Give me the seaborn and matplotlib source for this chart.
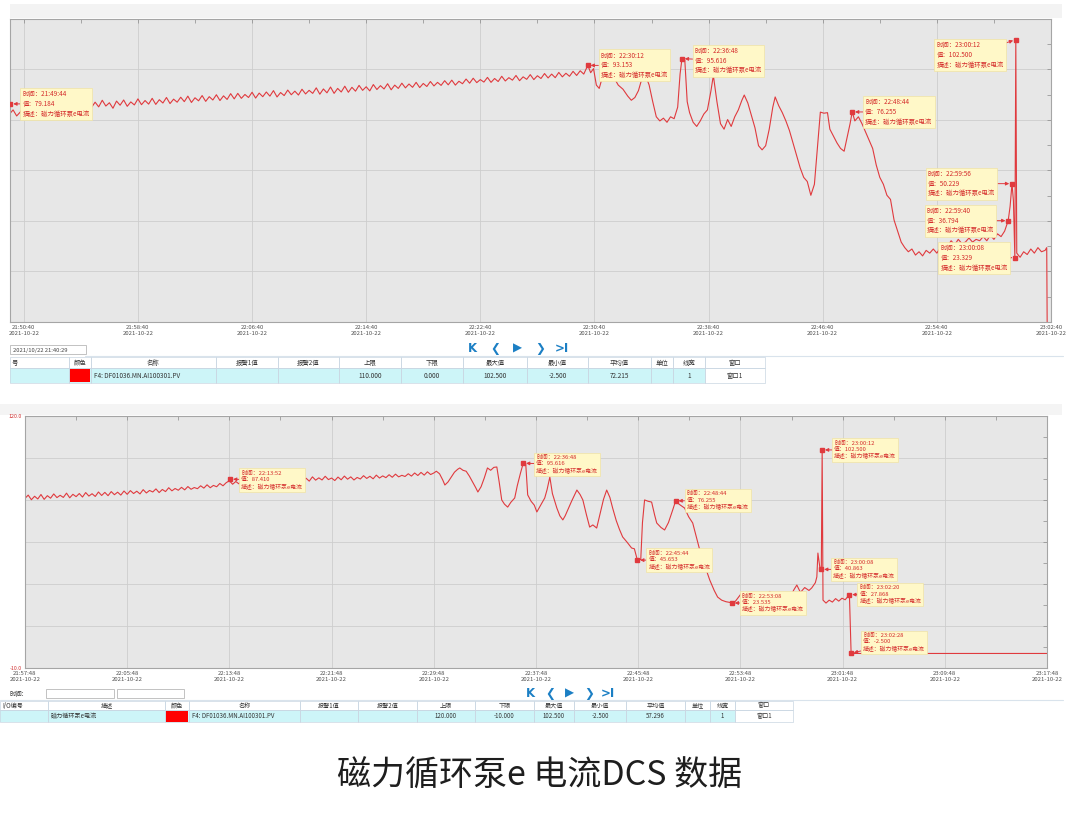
import numpy as np
import pandas as pd
import matplotlib
matplotlib.use("Agg")
import matplotlib.pyplot as plt
import matplotlib.dates as mdates
from matplotlib.patches import Rectangle
import seaborn as sns

DAY = "2021-10-22 "
RED = "#e03a3e"
NOTE_RED = "#d42a2a"
DESC = "磁力循环泵e电流"

# ---------------- upper trend ----------------
# steady part: one sample every 15 s from 21:49:40
top_start = "21:49:40"
top_steady = [
    75.5, 77.0, 74.8, 76.2, 78.0, 76.5, 77.8, 76.0,
    78.2, 76.8, 78.5, 77.0, 79.0, 77.2, 78.6, 76.9,
    78.8, 77.5, 79.3, 77.8, 79.6, 78.0, 80.1, 77.9,
    79.8, 78.1, 80.5, 78.4, 79.6, 77.6, 80.2, 78.7,
    80.6, 78.3, 79.9, 78.8, 81.0, 78.9, 80.4, 79.1,
    81.2, 79.0, 80.7, 79.5, 81.5, 79.3, 80.9, 79.8,
    81.6, 80.0, 82.0, 79.7, 81.4, 80.3, 82.2, 80.1,
    81.8, 80.6, 82.5, 80.4, 82.1, 80.8, 82.9, 81.0,
    83.0, 81.2, 82.6, 81.5, 83.4, 81.3, 83.1, 81.8,
    83.5, 82.0, 84.0, 81.7, 83.3, 82.2, 84.2, 82.5,
    83.8, 82.4, 84.5, 82.8, 84.1, 83.0, 85.0, 82.7,
    84.6, 83.2, 85.3, 83.0, 84.8, 83.5, 85.6, 83.4,
    85.2, 83.8, 85.9, 84.1, 85.4, 83.9, 86.2, 84.4,
    85.8, 84.6, 86.5, 84.3, 86.0, 84.8, 86.7, 85.0,
    86.4, 85.2, 87.0, 85.1, 86.6, 85.5, 87.3, 85.7,
    87.0, 85.9, 87.6, 86.1, 87.8, 86.0, 87.4, 86.5,
    88.2, 86.7, 88.5, 86.9, 88.0, 87.1, 88.8, 87.0,
    88.4, 87.3, 89.2, 87.5, 88.7, 87.8, 89.5, 87.6,
    89.0, 88.1, 89.8, 88.0, 89.4, 88.4, 90.2, 88.6,
    90.0, 88.7, 90.6, 89.0, 90.3, 89.2, 91.0, 89.5,
    91.2, 90.0,
]
top_event_times = [
    "22:30:12", "22:30:24", "22:30:36", "22:30:48", "22:31:00", "22:31:12", "22:31:24", "22:31:36",
    "22:32:00", "22:32:20", "22:32:40", "22:33:00", "22:33:15", "22:33:30", "22:33:45", "22:34:00",
    "22:34:15", "22:34:30", "22:34:45", "22:35:00", "22:35:15", "22:35:30", "22:35:45", "22:36:00",
    "22:36:15", "22:36:30", "22:36:40", "22:36:48", "22:37:00", "22:37:10", "22:37:20", "22:37:35",
    "22:37:50", "22:38:05", "22:38:20", "22:38:35", "22:38:50", "22:39:00", "22:39:15", "22:39:30",
    "22:39:45", "22:40:00", "22:40:15", "22:40:30", "22:40:45", "22:41:00", "22:41:10", "22:41:25",
    "22:41:40", "22:41:55", "22:42:10", "22:42:25", "22:42:40", "22:42:55", "22:43:10", "22:43:20",
    "22:43:35", "22:43:50", "22:44:05", "22:44:20", "22:44:35", "22:44:50", "22:45:05", "22:45:20",
    "22:45:35", "22:45:50", "22:46:05", "22:46:20", "22:46:30", "22:46:45", "22:47:00", "22:47:10",
    "22:47:25", "22:47:40", "22:47:55", "22:48:10", "22:48:25", "22:48:35", "22:48:44", "22:48:55",
    "22:49:10", "22:49:25", "22:49:40", "22:49:55", "22:50:10", "22:50:25", "22:50:40", "22:50:55",
    "22:51:10", "22:51:25", "22:51:40", "22:51:55", "22:52:10", "22:52:25", "22:52:40", "22:52:55",
    "22:53:10", "22:53:25", "22:53:40", "22:53:55", "22:54:10", "22:54:25", "22:54:40", "22:54:55",
    "22:55:10", "22:55:25", "22:55:40", "22:55:55", "22:56:10", "22:56:25", "22:56:40", "22:56:55",
    "22:57:10", "22:57:25", "22:57:40", "22:57:55", "22:58:10", "22:58:25", "22:58:40", "22:58:55",
    "22:59:10", "22:59:25", "22:59:40", "22:59:48", "22:59:56", "23:00:02", "23:00:08", "23:00:12",
    "23:00:16", "23:00:30", "23:00:45", "23:01:00", "23:01:15", "23:01:30", "23:01:45", "23:02:00",
    "23:02:15", "23:02:22", "23:02:24", "23:02:40",
]
top_event_values = [
    93.2, 90.5, 92.0, 86.0, 84.8, 88.5, 90.6, 91.5,
    89.0, 86.0, 84.5, 82.0, 80.5, 81.5, 84.0, 88.5,
    89.5, 86.0, 80.0, 74.5, 73.0, 74.0, 72.5, 74.5,
    73.8, 78.0, 90.0, 95.6, 95.0, 80.0, 76.0, 72.5,
    71.0, 73.0, 75.5, 77.0, 84.0, 89.5, 80.0, 72.0,
    70.0, 73.5, 71.0, 74.5, 77.0, 80.5, 82.4, 79.5,
    75.0, 70.5, 64.0, 62.5, 64.0, 70.0, 78.0, 81.7,
    78.5, 76.0, 73.0, 69.5, 65.0, 60.5, 56.0, 52.5,
    51.0, 46.0, 50.0, 66.0, 76.2, 75.8, 76.0, 70.0,
    67.5, 65.0, 63.0, 62.0, 68.0, 72.0, 76.3, 73.0,
    74.5, 72.0, 69.0, 66.0, 63.0, 57.0, 52.5, 50.0,
    46.0, 44.5, 37.0, 33.0, 29.0, 27.0, 25.5, 26.5,
    24.3, 25.5, 24.0, 26.0, 25.0, 26.5, 25.0, 27.0,
    28.5, 27.5, 29.5, 28.0, 30.0, 28.5, 29.0, 30.5,
    29.0, 30.0, 29.5, 31.0, 29.5, 31.5, 30.0, 32.0,
    31.0, 33.0, 36.8, 42.0, 50.2, 44.0, 23.3, 102.5,
    25.0, 23.5, 25.5, 24.5, 26.5, 25.0, 27.0, 25.5,
    26.0, 27.0, -2.5, -2.5,
]
top_note_times = ["21:49:44", "22:30:12", "22:36:48", "22:48:44",
                  "23:00:12", "22:59:56", "22:59:40", "23:00:08"]
top_note_values = [79.184, 93.153, 95.616, 76.255, 102.500, 50.229, 36.794, 23.329]
top_ticks = ["21:50:40", "21:58:40", "22:06:40", "22:14:40", "22:22:40",
             "22:30:40", "22:38:40", "22:46:40", "22:54:40", "23:02:40"]

# ---------------- lower trend ----------------
bot_start = "21:57:48"
bot_steady = [
    77.5, 79.2, 76.8, 78.6, 77.2, 79.5, 77.0, 78.9,
    77.6, 79.8, 77.9, 79.1, 78.0, 80.2, 77.8, 79.6,
    78.4, 80.0, 78.2, 80.5, 78.7, 79.9, 78.5, 80.8,
    79.0, 80.6, 78.9, 81.0, 79.4, 80.7, 79.2, 81.3,
    79.6, 81.5, 80.0, 81.2, 79.8, 82.0, 80.3, 81.6,
    80.8, 82.4, 80.5, 82.1, 81.0, 83.0, 81.4, 82.6,
    81.7, 83.2, 81.9, 83.6, 82.2, 83.1, 82.5, 84.0,
    82.8, 84.5, 83.0, 84.2, 83.5, 85.2, 84.0, 85.6,
    86.6, 84.8, 86.2, 85.0, 86.9, 85.3, 87.2, 85.6,
    86.8, 85.4, 87.5, 85.8, 87.0, 86.0, 87.8, 85.9,
    87.3, 86.2, 88.0, 86.5, 87.6, 86.1, 88.2, 86.8,
    87.9, 86.4, 88.6, 86.9, 88.1, 87.0, 88.9, 87.2,
    88.0, 86.7, 88.5, 87.1, 89.0, 87.4, 88.6, 87.0,
    88.3, 87.5, 89.2, 87.8, 88.9, 87.6, 89.5, 88.0,
    89.1, 88.2, 89.7, 88.4, 90.0, 88.6, 89.4, 88.8,
    90.2, 89.0, 90.6, 89.3, 90.9, 89.5, 91.2, 89.8,
    90.6,
]
bot_event_times = [
    "22:30:00", "22:30:15", "22:30:30", "22:30:40", "22:30:55", "22:31:10", "22:31:25", "22:31:40",
    "22:31:50", "22:32:05", "22:32:20", "22:32:35", "22:32:50", "22:33:05", "22:33:15", "22:33:30",
    "22:33:45", "22:34:00", "22:34:15", "22:34:30", "22:34:44", "22:34:55", "22:35:07", "22:35:20",
    "22:35:35", "22:35:50", "22:36:08", "22:36:20", "22:36:35", "22:36:48", "22:37:00", "22:37:09",
    "22:37:25", "22:37:40", "22:37:52", "22:38:10", "22:38:29", "22:38:40", "22:38:53", "22:39:05",
    "22:39:26", "22:39:40", "22:39:54", "22:40:05", "22:40:17", "22:40:35", "22:41:00", "22:41:15",
    "22:41:28", "22:41:45", "22:42:00", "22:42:15", "22:42:33", "22:42:50", "22:43:05", "22:43:20",
    "22:43:35", "22:43:48", "22:44:05", "22:44:20", "22:44:35", "22:44:55", "22:45:17", "22:45:30",
    "22:45:44", "22:46:00", "22:46:08", "22:46:18", "22:46:35", "22:46:51", "22:47:05", "22:47:15",
    "22:47:35", "22:47:52", "22:48:10", "22:48:30", "22:48:44", "22:49:00", "22:49:26", "22:49:45",
    "22:50:04", "22:50:20", "22:50:37", "22:51:00", "22:51:24", "22:51:45", "22:52:01", "22:52:20",
    "22:52:40", "22:53:00", "22:53:08", "22:53:25", "22:53:54", "22:54:15", "22:54:35", "22:54:55",
    "22:55:15", "22:55:35", "22:55:50", "22:56:06", "22:56:25", "22:56:45", "22:57:05", "22:57:25",
    "22:57:45", "22:58:00", "22:58:13", "22:58:30", "22:58:50", "22:59:10", "22:59:23", "22:59:40",
    "22:59:47", "22:59:52", "23:00:01", "23:00:08", "23:00:12", "23:00:16", "23:00:30", "23:00:45",
    "23:01:00", "23:01:15", "23:01:30", "23:01:45", "23:02:00", "23:02:10", "23:02:20", "23:02:28",
    "23:17:48",
]
bot_event_values = [
    91.5, 90.2, 87.0, 84.4, 86.0, 88.5, 91.0, 92.5,
    93.2, 92.0, 91.5, 89.0, 86.0, 83.0, 80.8, 83.5,
    88.0, 93.2, 92.0, 93.5, 93.7, 86.0, 76.7, 74.5,
    73.0, 75.5, 77.7, 84.0, 90.5, 95.6, 95.0, 79.3,
    76.0, 74.0, 70.5, 74.0, 77.7, 82.0, 88.5, 80.0,
    72.5, 68.5, 66.4, 68.5, 71.5, 76.0, 81.8, 79.5,
    76.7, 69.0, 62.7, 63.8, 62.2, 70.0, 77.0, 81.8,
    78.0, 72.5, 66.0, 61.5, 57.6, 55.0, 51.9, 51.5,
    45.7, 46.0, 65.0, 76.7, 76.0, 75.6, 69.0, 64.8,
    62.5, 61.2, 65.0, 71.5, 76.3, 74.5, 72.5, 68.0,
    64.8, 58.0, 50.9, 43.0, 35.4, 30.0, 26.6, 25.0,
    24.2, 23.8, 23.5, 24.5, 28.7, 25.5, 27.0, 25.8,
    27.5, 26.2, 28.0, 29.5, 27.0, 28.2, 26.8, 28.5,
    27.4, 30.5, 32.8, 29.0, 31.5, 30.0, 31.3, 34.0,
    37.0, 49.3, 42.0, 40.9, 102.5, 25.0, 23.5, 25.0,
    24.0, 25.8, 24.5, 26.0, 25.2, 26.5, 27.9, -2.5,
    -2.5,
]
bot_note_times = ["22:13:52", "22:36:48", "22:48:44", "22:45:44", "22:53:08",
                  "23:00:12", "23:00:08", "23:02:20", "23:02:28"]
bot_note_values = [87.410, 95.616, 76.255, 45.653, 23.535, 102.500, 40.863, 27.868, -2.500]
bot_ticks = ["21:57:48", "22:05:48", "22:13:48", "22:21:48", "22:29:48", "22:37:48",
             "22:45:48", "22:53:48", "23:01:48", "23:09:48", "23:17:48"]

# ---------------- tables ----------------
top_headers = ["号", "颜色", "名称", "报警1值", "报警2值", "上限", "下限",
               "最大值", "最小值", "平均值", "单位", "线宽", "窗口"]
top_cells = ["", "", "F4: DF01036.MN.AI100301.PV", "", "", "110.000", "0.000",
             "102.500", "-2.500", "72.215", "", "1", "窗口1"]
bot_headers = ["I/O编号", "描述", "颜色", "名称", "报警1值", "报警2值", "上限", "下限",
               "最大值", "最小值", "平均值", "单位", "线宽", "窗口"]
bot_cells = ["", DESC, "", "F4: DF01036.MN.AI100301.PV", "", "", "120.000", "-10.000",
             "102.500", "-2.500", "57.296", "", "1", "窗口1"]

# layout (pixels) -- kept apart from the data
top_edges = [10, 69, 91, 216, 278, 339, 401, 463, 527, 588, 651, 673, 705, 765]
bot_edges = [0, 48, 165, 189, 300, 358, 417, 475, 534, 574, 626, 685, 710, 735, 793]
top_offsets = [(12, 0), (13, 0), (13, -2), (13, 0), (-12, -15), (-17, 0), (-14, 0), (-7, 0)]
bot_offsets = [(11, -1), (13, -1), (11, 0), (11, 0), (10, 0), (12, 0), (12, 0), (10, 0), (12, 11)]


def to_ts(t):
    return pd.Timestamp(DAY + t)


def build_frame(start, steady, ev_times, ev_values):
    t0 = to_ts(start)
    times = [t0 + pd.Timedelta(seconds=15 * i) for i in range(len(steady))]
    times += [to_ts(t) for t in ev_times]
    return pd.DataFrame({"time": times, "value": list(steady) + list(ev_values)})


def style_axis(ax, ticks, xlim, ylim):
    ax.set_facecolor("#e7e7e7")
    ax.set_xlim(mdates.date2num(to_ts(xlim[0])), mdates.date2num(to_ts(xlim[1])))
    ax.set_ylim(*ylim)
    major = [mdates.date2num(to_ts(t)) for t in ticks]
    ax.set_xticks(major)
    half = (major[1] - major[0]) / 2
    ax.set_xticks([m + half for m in major[:-1]], minor=True)
    ax.xaxis.set_major_formatter(mdates.DateFormatter("%H:%M:%S\n%Y-%m-%d"))
    yt = np.linspace(ylim[0], ylim[1], 7)
    ax.set_yticks(yt)
    ax.set_yticks(yt[:-1] + (yt[1] - yt[0]) / 2, minor=True)
    ax.grid(True, which="major", color="#cdcdcd", lw=0.6)
    ax.grid(False, which="minor")
    ax.tick_params(which="both", direction="in", length=3, width=0.5, color="#8a8a8a",
                   top=True, right=True, labelsize=4.3, labelcolor="#505050", pad=2)
    for s in ax.spines.values():
        s.set_color("#a5a5a5")
        s.set_linewidth(0.8)
    ax.set_xlabel("")
    ax.set_ylabel("")


def draw_notes(ax, times, values, offsets, fs):
    for t, v, (dx, dy) in zip(times, values, offsets):
        x = mdates.date2num(to_ts(t))
        ax.plot([x], [v], marker="s", ms=3, color=RED, zorder=5)
        label = f"时间：{t}\n值：{v:.3f}\n描述：{DESC}"
        ax.annotate(label, xy=(x, v), xytext=(dx, dy), textcoords="offset pixels",
                    ha="left" if dx > 0 else "right", va="center", multialignment="left",
                    fontsize=fs, color=NOTE_RED, linespacing=1.3, zorder=6,
                    bbox=dict(boxstyle="square,pad=0.35", fc="#fff8c8", ec="#efe3a6", lw=0.5),
                    arrowprops=dict(arrowstyle="-|>", color=RED, lw=0.7, mutation_scale=5,
                                    shrinkA=0, shrinkB=2))


def draw_table(cv, edges, y0, y1, y2, headers, cells, left_cols, swatch_col, fs):
    cv.add_patch(Rectangle((edges[0], y1), edges[-2] - edges[0], y2 - y1, fc="#cdf5f8", ec="none"))
    cv.add_patch(Rectangle((edges[-2], y1), edges[-1] - edges[-2], y2 - y1, fc="white", ec="none"))
    for i, (h, c) in enumerate(zip(headers, cells)):
        a, b = edges[i], edges[i + 1]
        for yy, hh in ((y0, y1 - y0), (y1, y2 - y1)):
            cv.add_patch(Rectangle((a, yy), b - a, hh, fc="none", ec="#c9d6e2", lw=0.5))
        if i == 0:
            cv.text(a + 2, (y0 + y1) / 2, h, fontsize=fs, ha="left", va="center", color="#333")
        else:
            cv.text((a + b) / 2, (y0 + y1) / 2, h, fontsize=fs, ha="center", va="center", color="#333")
        if i == swatch_col:
            cv.add_patch(Rectangle((a + 1, y1 + 0.5), b - a - 2, y2 - y1 - 1, fc="#ff0000", ec="none"))
        if c:
            if i in left_cols:
                cv.text(a + 3, (y1 + y2) / 2, c, fontsize=fs, ha="left", va="center", color="#333")
            else:
                cv.text((a + b) / 2, (y1 + y2) / 2, c, fontsize=fs, ha="center", va="center", color="#333")


def draw_nav(cv, xs, y):
    for x, s in zip(xs, ["K", "❮", "▶", "❯", ">I"]):
        cv.text(x, y, s, fontsize=8.5, fontweight="bold", color="#1b7fc4",
                ha="center", va="center", family=["DejaVu Sans"])


sns.set_style("whitegrid")
plt.rcParams["font.family"] = ["Noto Sans CJK SC", "DejaVu Sans"]
plt.rcParams["axes.unicode_minus"] = False

fig = plt.figure(figsize=(10.8, 8.13), dpi=100)
fig.patch.set_facecolor("white")

# full-figure canvas in pixel units for the window chrome
cv = fig.add_axes([0, 0, 1, 1])
cv.set_xlim(0, 1080)
cv.set_ylim(813, 0)
cv.axis("off")

# light window bars
cv.add_patch(Rectangle((10, 4), 1052, 14, fc="#f3f3f3", ec="none"))
cv.add_patch(Rectangle((0, 404), 1062, 11, fc="#f4f4f4", ec="none"))
cv.plot([85, 1063], [356, 356], color="#d9e3ec", lw=0.8)
cv.plot([0, 1063], [700, 700], color="#d9e3ec", lw=0.8)

# upper chart
ax1 = fig.add_axes([10 / 1080, 1 - 322 / 813, 1041 / 1080, 303 / 813])
df_top = build_frame(top_start, top_steady, top_event_times, top_event_values)
sns.lineplot(data=df_top, x="time", y="value", ax=ax1, color=RED, linewidth=0.8)
style_axis(ax1, top_ticks, ("21:49:42", "23:02:40"), (0, 110))
ax1.set_yticklabels([])
ax1.tick_params(axis="y", which="both", left=False)
draw_notes(ax1, top_note_times, top_note_values, top_offsets, 4.6)

# lower chart
ax2 = fig.add_axes([25 / 1080, 1 - 668 / 813, 1022 / 1080, 252 / 813])
df_bot = build_frame(bot_start, bot_steady, bot_event_times, bot_event_values)
sns.lineplot(data=df_bot, x="time", y="value", ax=ax2, color=RED, linewidth=0.8)
style_axis(ax2, bot_ticks, ("21:57:48", "23:17:48"), (-10, 120))
ax2.set_yticklabels(["-10.0", "", "", "", "", "", "120.0"], color="#d03030", fontsize=3.8)
draw_notes(ax2, bot_note_times, bot_note_values, bot_offsets, 4.2)

# upper controls + table
cv.add_patch(Rectangle((10, 345.5), 76, 9, fc="white", ec="#b8b8b8", lw=0.6))
cv.text(13, 350, "2021/10/22 21:40:29", fontsize=4.2, ha="left", va="center", color="#444")
draw_nav(cv, [472, 495, 517, 540, 562], 348)
draw_table(cv, top_edges, 357.5, 368.5, 383, top_headers, top_cells, [2], 1, 4.6)

# lower controls + table
cv.text(10, 693.5, "时间:", fontsize=4.6, ha="left", va="center", color="#333")
cv.add_patch(Rectangle((46, 689), 68, 9, fc="white", ec="#b8b8b8", lw=0.6))
cv.add_patch(Rectangle((117, 689), 67, 9, fc="white", ec="#b8b8b8", lw=0.6))
draw_nav(cv, [530, 550, 569, 589, 608], 693)
draw_table(cv, bot_edges, 701, 710, 722, bot_headers, bot_cells, [1, 3], 2, 4.4)

# caption
cv.text(540, 776, "磁力循环泵e 电流DCS 数据", fontsize=24.5, ha="center", va="center", color="#1e1e1e")

fig.savefig("out.png", dpi=100)
